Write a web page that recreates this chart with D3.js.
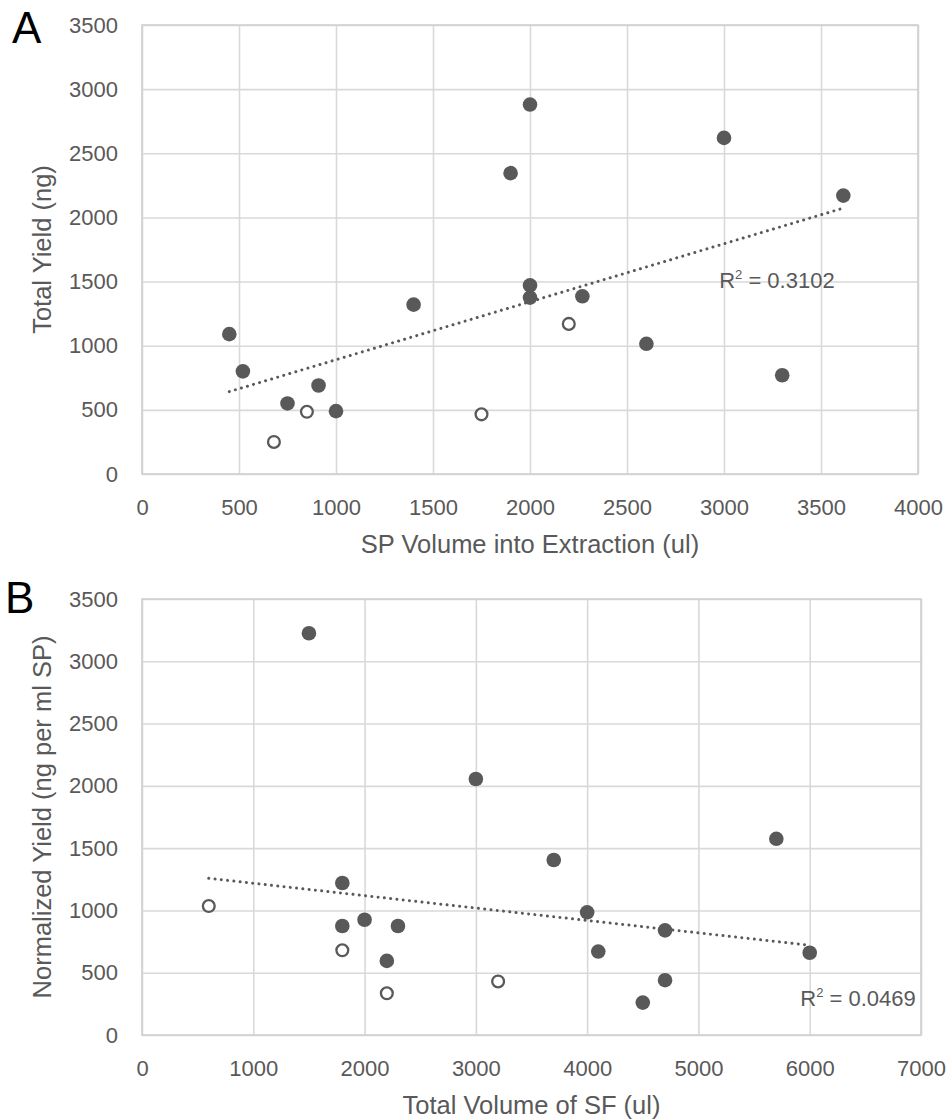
<!DOCTYPE html>
<meta charset="utf-8">
<script src="https://d3js.org/d3.v7.min.js"></script>
<style>
  body { margin: 0; background: #fff; }
  text { font-family: "Liberation Sans", Arial, sans-serif; }
</style>
<div id="chart"></div>
<script>
// Panel A: SP volume into extraction vs total yield
var aFilledX = [450, 520, 750, 910, 1000, 1400, 1900, 2000, 2000, 2000, 2270, 2600, 3000, 3300, 3615];
var aFilledY = [1090, 800, 550, 690, 490, 1320, 2345, 2880, 1470, 1375, 1385, 1015, 2620, 770, 2170];
var aOpenX = [680, 850, 1750, 2200];
var aOpenY = [250, 485, 465, 1170];
var aXTicks = [0, 500, 1000, 1500, 2000, 2500, 3000, 3500, 4000];
var aYTicks = [0, 500, 1000, 1500, 2000, 2500, 3000, 3500];

// Panel B: total volume of SF vs normalized yield
var bFilledX = [1500, 1800, 1800, 2000, 2300, 2200, 3000, 3700, 4000, 4100, 4700, 4700, 4500, 5700, 6000];
var bFilledY = [3225, 1220, 875, 925, 875, 595, 2055, 1405, 985, 670, 840, 440, 260, 1575, 660];
var bOpenX = [600, 1800, 2200, 3200];
var bOpenY = [1035, 680, 335, 430];
var bXTicks = [0, 1000, 2000, 3000, 4000, 5000, 6000, 7000];
var bYTicks = [0, 500, 1000, 1500, 2000, 2500, 3000, 3500];

var grey = "#595959";
var gridColor = "#d9d9d9";

var svg = d3.select("#chart")
  .append("svg")
    .attr("width", 950)
    .attr("height", 1120);

function zip(xs, ys) {
  return xs.map((x, i) => ({x: x, y: ys[i]}));
}

// least squares fit over every point of the panel
function fit(pts) {
  var mx = d3.mean(pts, d => d.x), my = d3.mean(pts, d => d.y);
  var sxy = d3.sum(pts, d => (d.x - mx) * (d.y - my));
  var sxx = d3.sum(pts, d => (d.x - mx) * (d.x - mx));
  var b = sxy / sxx;
  return {b: b, a: my - b * mx};
}

function drawPanel(o) {
  var x = d3.scaleLinear().domain([0, o.xMax]).range([o.left, o.right]);
  var y = d3.scaleLinear().domain([0, 3500]).range([o.bottom, o.top]);
  var g = svg.append("g");

  // gridlines
  g.append("g")
    .attr("transform", "translate(0," + o.bottom + ")")
    .call(d3.axisBottom(x).tickValues(o.xTicks).tickSize(-(o.bottom - o.top)).tickFormat(""))
    .call(s => s.select(".domain").remove())
    .selectAll("line").attr("stroke", gridColor).attr("stroke-width", 1.6);
  g.append("g")
    .attr("transform", "translate(" + o.left + ",0)")
    .call(d3.axisLeft(y).tickValues(o.yTicks).tickSize(-(o.right - o.left)).tickFormat(""))
    .call(s => s.select(".domain").remove())
    .selectAll("line").attr("stroke", gridColor).attr("stroke-width", 1.6);

  // frame
  g.append("rect")
    .attr("x", o.left).attr("y", o.top)
    .attr("width", o.right - o.left).attr("height", o.bottom - o.top)
    .attr("fill", "none").attr("stroke", "#d0d0d0").attr("stroke-width", 1.6);

  // tick labels
  var xa = g.append("g")
    .attr("transform", "translate(0," + o.bottom + ")")
    .call(d3.axisBottom(x).tickValues(o.xTicks).tickSize(0).tickPadding(25).tickFormat(d3.format("d")));
  var ya = g.append("g")
    .attr("transform", "translate(" + o.left + ",0)")
    .call(d3.axisLeft(y).tickValues(o.yTicks).tickSize(0).tickPadding(24).tickFormat(d3.format("d")));
  [xa, ya].forEach(a => {
    a.select(".domain").remove();
    a.selectAll("text")
      .attr("fill", grey)
      .style("font-size", "22px")
      .style("font-family", '"Liberation Sans", Arial, sans-serif');
  });

  var filled = zip(o.fx, o.fy), open = zip(o.ox, o.oy);
  var all = filled.concat(open);

  // markers
  g.append("g").selectAll("circle")
    .data(filled).enter().append("circle")
      .attr("cx", d => x(d.x)).attr("cy", d => y(d.y))
      .attr("r", 7.3).attr("fill", grey);
  g.append("g").selectAll("circle")
    .data(open).enter().append("circle")
      .attr("cx", d => x(d.x)).attr("cy", d => y(d.y))
      .attr("r", 5.9).attr("fill", "#fff")
      .attr("stroke", grey).attr("stroke-width", 2.3);

  // dotted linear trendline
  var f = fit(all);
  var ext = d3.extent(all, d => d.x);
  g.append("path")
    .datum(ext)
    .attr("fill", "none")
    .attr("stroke", grey)
    .attr("stroke-width", 3)
    .attr("stroke-linecap", "round")
    .attr("stroke-dasharray", "0.01 6.3")
    .attr("d", d3.line().x(d => x(d)).y(d => y(f.a + f.b * d)));

  // R squared label
  var r2 = g.append("text")
    .attr("x", x(o.r2x)).attr("y", y(o.r2y))
    .attr("fill", grey).style("font-size", "22px");
  r2.append("tspan").text("R");
  r2.append("tspan").attr("dy", -9).style("font-size", "13px").text("2");
  r2.append("tspan").attr("dy", 9).text(" = " + o.r2);

  // axis titles
  g.append("text")
    .attr("x", (o.left + o.right) / 2).attr("y", o.bottom + 79)
    .attr("text-anchor", "middle")
    .attr("fill", grey).style("font-size", "25.5px")
    .text(o.xTitle);
  g.append("text")
    .attr("transform", "translate(51," + (o.top + o.bottom) / 2 + ") rotate(-90)")
    .attr("text-anchor", "middle")
    .attr("fill", grey).style("font-size", "25.5px")
    .text(o.yTitle);

  // panel letter
  g.append("text")
    .attr("x", o.letterX).attr("y", o.letterY)
    .attr("fill", "#000").style("font-size", "44px")
    .text(o.letter);
}

drawPanel({
  left: 142, right: 918, top: 25, bottom: 474, xMax: 4000,
  xTicks: aXTicks, yTicks: aYTicks,
  fx: aFilledX, fy: aFilledY, ox: aOpenX, oy: aOpenY,
  r2: "0.3102", r2x: 2975, r2y: 1450,
  xTitle: "SP Volume into Extraction (ul)", yTitle: "Total Yield (ng)",
  letter: "A", letterX: 12, letterY: 43
});

drawPanel({
  left: 142, right: 921, top: 599, bottom: 1035, xMax: 7000,
  xTicks: bXTicks, yTicks: bYTicks,
  fx: bFilledX, fy: bFilledY, ox: bOpenX, oy: bOpenY,
  r2: "0.0469", r2x: 5915, r2y: 233,
  xTitle: "Total Volume of SF (ul)", yTitle: "Normalized Yield (ng per ml SP)",
  letter: "B", letterX: 5, letterY: 613
});
</script>
